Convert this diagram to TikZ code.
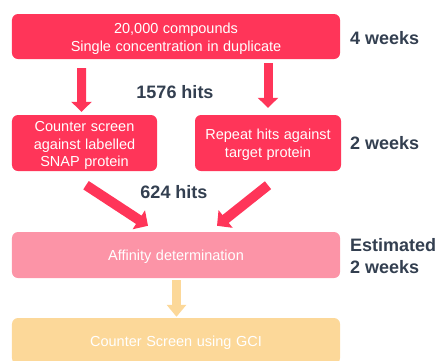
\documentclass[tikz,border=0pt]{standalone}
\usepackage{fontspec}
\setmainfont{Liberation Sans}
\usetikzlibrary{arrows.meta}
\definecolor{hitred}{HTML}{FF3559}
\definecolor{softpink}{HTML}{FC94A7}
\definecolor{softyellow}{HTML}{FCD899}
\definecolor{slate}{HTML}{333F50}
\newcommand\stagefont{\fontsize{14.5bp}{17.8bp}\selectfont\spaceskip=4.6bp plus 1bp\relax}
\tikzset{
  stage/.style={rounded corners=6bp, inner sep=0pt},
  redstage/.style={stage, fill=hitred},
  pinkstage/.style={stage, fill=softpink},
  yellowstage/.style={stage, fill=softyellow},
  caption/.style={inner sep=0pt, align=center, text=white, font=\stagefont},
  note/.style={text=slate, inner sep=0pt, align=left,
    font=\fontsize{18bp}{22bp}\selectfont\bfseries},
  fatarrow/.style={line width=9bp,
    -{Triangle[width=20bp,length=10bp]}},
  redarrow/.style={fatarrow, draw=hitred},
  yellowarrow/.style={fatarrow, draw=softyellow,
    -{Triangle[width=19bp,length=12bp]}},
}
\begin{document}
\begin{tikzpicture}[x=1bp,y=-1bp]
\useasboundingbox (0,0) rectangle (442,360);
\clip (0,0) rectangle (442,360);

% stages of the screening cascade
\node[redstage, minimum width=328bp, minimum height=45bp] (screen) at (176,36.5) {};
\node[redstage, minimum width=145bp, minimum height=56bp] (counter) at (84.5,143) {};
\node[redstage, minimum width=146bp, minimum height=56bp] (repeat) at (268,143) {};
\node[pinkstage, minimum width=328bp, minimum height=46bp] (affinity) at (176,255) {};
\node[yellowstage, minimum width=328bp, minimum height=46bp] (gci) at (176,341) {};

% stage texts, set a little below each box centre
\node[caption] (screentext) at ([yshift=-2bp]screen.center)
  {20,000 compounds\\Single concentration in duplicate};
\node[caption] (countertext) at ([yshift=-2.5bp]counter.center)
  {Counter screen\\against labelled\\SNAP protein};
\node[caption] (repeattext) at ([yshift=-2bp]repeat.center)
  {Repeat hits against\\target protein};
\node[caption] (affinitytext) at ([yshift=-2bp]affinity.center)
  {Affinity determination};
\node[caption] (gcitext) at ([yshift=-2bp]gci.center)
  {Counter Screen using GCI};

% timings and hit counts
\node[note, anchor=west] (t1) at (350,38) {4 weeks};
\node[note] (h1) at (175,92) {1576 hits};
\node[note, anchor=west] (t2) at (350,143) {2 weeks};
\node[note] (h2) at (174,192) {624 hits};
\node[note, anchor=west] (t3) at (350,256) {Estimated\\2 weeks};

% flow between stages
\draw[redarrow] ([shift={(-94.5,9)}]screen.south) -- ([shift={(-3,-3)}]counter.north);
\draw[redarrow] ([shift={(92,4)}]screen.south) -- ([shift={(0,-7)}]repeat.north);
\draw[redarrow, line width=10bp, -{Triangle[width=22bp,length=11bp]}]
  ([shift={(1.5,14)}]counter.south) -- ([shift={(-28,-6)}]affinity.north);
\draw[redarrow, line width=10bp, -{Triangle[width=22bp,length=11bp]}]
  ([shift={(0,14)}]repeat.south) -- ([shift={(41,-6)}]affinity.north);
\draw[yellowarrow] ([shift={(0.5,2)}]affinity.south) -- ([shift={(0.5,-1)}]gci.north);
\end{tikzpicture}
\end{document}
